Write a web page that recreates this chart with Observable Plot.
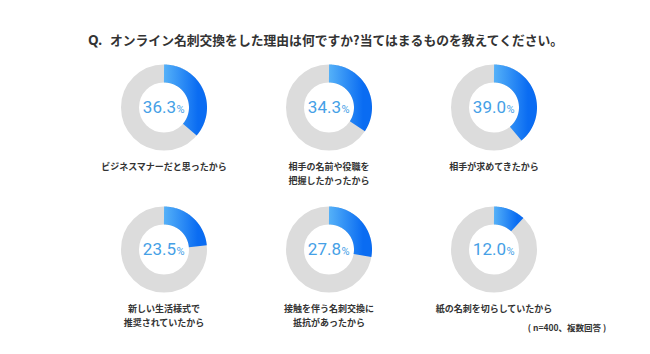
<!DOCTYPE html>
<html>
<head>
<meta charset="utf-8">
<script src="https://cdn.jsdelivr.net/npm/d3@7"></script>
<script src="https://cdn.jsdelivr.net/npm/@observablehq/plot@0.6"></script>
<style>
  html, body { margin: 0; padding: 0; background: #fff; }
  #wrap { position: relative; width: 650px; height: 354px; overflow: hidden; font-family: "Noto Sans CJK JP", "Noto Sans", sans-serif; }
  #title { height: 55px; box-sizing: border-box; padding: 31px 0 0 88px; font-size: 12.8px; line-height: 18px; font-weight: bold; color: #333; white-space: nowrap; }
  #title .q { font-family: "Noto Sans", sans-serif; font-size: 13.5px; margin-right: 8px; }
  svg { display: block; }
</style>
</head>
<body>
<div id="wrap">
  <div id="title"><span class="q">Q.</span>オンライン名刺交換をした理由は何ですか?当てはまるものを教えてください。</div>
  <div id="chart"></div>
</div>
<script>
const labels = [
  "ビジネスマナーだと思ったから",
  "相手の名前や役職を\n把握したかったから",
  "相手が求めてきたから",
  "新しい生活様式で\n推奨されていたから",
  "接触を伴う名刺交換に\n抵抗があったから",
  "紙の名刺を切らしていたから"
];
const values = [36.3, 34.3, 39.0, 23.5, 27.8, 12.0];
const note = "( n=400、複数回答 )";

const items = values.map((v, i) => ({i, v, label: labels[i], col: i % 3, row: Math.floor(i / 3)}));

// arc geometry derived from each value (ring centre line radius in px-units)
const rMid = 34;
const arc = items.flatMap(d => {
  const n = Math.max(2, Math.ceil(d.v * 3.6));
  const end = 2 * Math.PI * d.v / 100;
  return d3.range(n + 1).map(k => {
    const t = end * k / n;
    return {i: d.i, col: d.col, row: d.row, x: rMid * Math.sin(t), y: rMid * Math.cos(t)};
  });
});

const fontCJK = "Noto Sans CJK JP";
const plot = Plot.plot({
  width: 650,
  height: 299,
  marginLeft: 80.5,
  marginRight: 74.5,
  marginTop: 0,
  marginBottom: 15,
  fx: {domain: [0, 1, 2], padding: 0, axis: null},
  fy: {domain: [0, 1], padding: 0, axis: null},
  x: {domain: [-82.5, 82.5], axis: null},
  y: {domain: [-90, 52], axis: null},
  style: {fontFamily: fontCJK, background: "white"},
  marks: [
    Plot.dot(items, {fx: "col", fy: "row", x: () => 0, y: () => 0, r: rMid, fill: "none", stroke: "#dcdcdc", strokeWidth: 18}),
    Plot.line(arc, {fx: "col", fy: "row", x: "x", y: "y", z: "i", stroke: "url(#blueGrad)", strokeWidth: 18, strokeLinecap: "butt", curve: "linear"}),
    Plot.text(items, {fx: "col", fy: "row", x: () => 12, y: () => 0, text: d => d.v.toFixed(1), textAnchor: "end", fontSize: 17, fill: "#45a0e6", fontFamily: "Roboto, 'Noto Sans', sans-serif"}),
    Plot.text(items, {fx: "col", fy: "row", x: () => 12.5, y: () => 0, text: () => "%", textAnchor: "start", fontSize: 11, dy: 2, fill: "#45a0e6", fontFamily: "Roboto, 'Noto Sans', sans-serif"}),
    Plot.text(items, {fx: "col", fy: "row", x: () => 0, y: () => -52, text: "label", lineAnchor: "top", lineHeight: 1.6, fontSize: 9, fontWeight: "bold", fill: "#333"}),
    Plot.text([{col: 2, row: 1}], {fx: "col", fy: "row", x: () => 73, y: () => -79, text: () => note, textAnchor: "middle", fontSize: 8.5, fontWeight: "bold", fill: "#333"})
  ]
});

d3.select(plot).insert("defs", ":first-child").html(
  '<linearGradient id="blueGrad" x1="0" y1="0" x2="1" y2="0">' +
  '<stop offset="0" stop-color="#55b1f8"/>' +
  '<stop offset="1" stop-color="#0a6cf2"/>' +
  '</linearGradient>'
);

document.getElementById("chart").appendChild(plot);
</script>
</body>
</html>
